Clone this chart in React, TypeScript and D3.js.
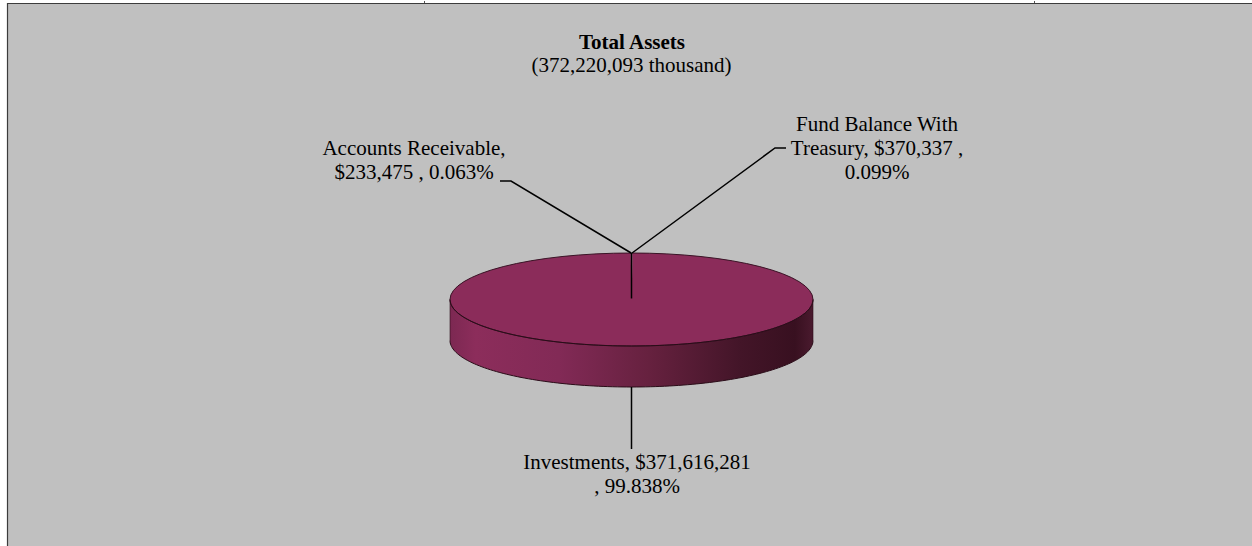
import React from "react";
import * as d3 from "d3";

// ---- data ----
const categories = ["Fund Balance With Treasury", "Investments", "Accounts Receivable"];
const values = [370337, 371616281, 233475];
const percentLabels = ["0.099%", "99.838%", "0.063%"];
const labelLines = [
  ["Fund Balance With", "Treasury, $370,337 ,", "0.099%"],
  ["Investments, $371,616,281", ", 99.838%"],
  ["Accounts Receivable,", "$233,475 , 0.063%"],
];
const titleLines = ["Total Assets", "(372,220,093 thousand)"];

// ---- layout ----
const W = 1252;
const H = 546;
const CX = 631.5;
const CY = 299.5;
const RX = 181.5;
const RY = 46.5;
const DEPTH = 41;
const FONT = "'Liberation Serif', 'Times New Roman', serif";
const FS = 21;
const LH = 24;

// label layout: text centre x, first baseline y, leader elbow points
const labelLayout = [
  { x: 877, y: 131, elbow: [775, 148], end: [786, 148] },
  { x: 637, y: 469, elbow: null as null | number[], end: [631.5, 449] },
  { x: 414, y: 155, elbow: [511, 181], end: [500, 181] },
];

export default function App() {
  const pie = d3.pie<number>().sort(null).value((d) => d);
  const arcs = pie(values);

  const pt = (a: number, dy = 0) => [CX + RX * Math.sin(a), CY - RY * Math.cos(a) + dy];

  const slicePath = (a0: number, a1: number) => {
    const n = Math.max(2, Math.ceil(((a1 - a0) / (2 * Math.PI)) * 200));
    const pts: number[][] = [[CX, CY]];
    for (let i = 0; i <= n; i++) pts.push(pt(a0 + ((a1 - a0) * i) / n));
    return d3.line()(pts as [number, number][]) + "Z";
  };

  // side wall (front half)
  const sidePts: [number, number][] = [];
  const N = 120;
  for (let i = 0; i <= N; i++) {
    const a = Math.PI / 2 + (Math.PI * i) / N; // right -> bottom -> left
    const p = pt(a);
    sidePts.push([p[0], p[1]]);
  }
  const bottomPts: [number, number][] = sidePts.map(([x, y]) => [x, y + DEPTH]).reverse();
  const sidePath = d3.line()([...sidePts, ...bottomPts]) + "Z";
  const frontEdge = d3.line()(sidePts);
  const bottomEdge = d3.line()(bottomPts);

  const color = "#8b2c5a";

  return (
    <svg
      width={W}
      height={H}
      style={{ position: "absolute", left: 0, top: 0, display: "block" }}
      fontFamily={FONT}
    >
      <defs>
        <linearGradient id="side" x1={CX - RX} x2={CX + RX} y1={0} y2={0} gradientUnits="userSpaceOnUse">
          <stop offset="0" stopColor="#7c2852" />
          <stop offset="0.07" stopColor="#8c2d5b" />
          <stop offset="0.3" stopColor="#822a56" />
          <stop offset="0.55" stopColor="#66213f" />
          <stop offset="0.8" stopColor="#431528" />
          <stop offset="0.95" stopColor="#381020" />
          <stop offset="1" stopColor="#4a1a2e" />
        </linearGradient>
      </defs>
      <rect x={0} y={0} width={W} height={H} fill="#ffffff" />
      <rect x={7} y={3} width={W - 7} height={H - 3} fill="#c0c0c0" />
      <line x1={7} x2={W} y1={3.5} y2={3.5} stroke="#3c3c3c" strokeWidth={1} />
      <line x1={7.5} x2={7.5} y1={3} y2={H} stroke="#3c3c3c" strokeWidth={1.2} />
      <line x1={424.5} x2={424.5} y1={1} y2={3} stroke="#555" strokeWidth={1} />
      <line x1={1034.5} x2={1034.5} y1={1} y2={3} stroke="#555" strokeWidth={1} />

      {/* title */}
      <text x={632} y={49} textAnchor="middle" fontSize={FS} fontWeight="bold" fill="#000">
        {titleLines[0]}
      </text>
      <text x={631.5} y={72} textAnchor="middle" fontSize={FS} fill="#000">
        {titleLines[1]}
      </text>

      {/* pie side */}
      <path d={sidePath} fill="url(#side)" />
      <path d={bottomEdge} fill="none" stroke="#2a0c18" strokeWidth={1} />
      <line x1={CX - RX} x2={CX - RX} y1={CY} y2={CY + DEPTH} stroke="#2a0c18" strokeWidth={0.6} />
      <line x1={CX + RX} x2={CX + RX} y1={CY} y2={CY + DEPTH} stroke="#2a0c18" strokeWidth={0.6} />

      {/* pie top */}
      {arcs.map((a, i) => (
        <path key={categories[i]} d={slicePath(a.startAngle, a.endAngle)} fill={color} stroke="none" />
      ))}
      <ellipse cx={CX} cy={CY} rx={RX} ry={RY} fill="none" stroke="#3a1426" strokeWidth={1} />
      <path d={frontEdge} fill="none" stroke="#2a0c18" strokeWidth={1} />

      {/* inner radial line */}
      <line x1={CX} x2={CX} y1={CY - 1} y2={CY - RY} stroke="#000" strokeWidth={1.5} />

      {/* leaders and labels */}
      {arcs.map((a, i) => {
        const mid = (a.startAngle + a.endAngle) / 2;
        const onBottom = Math.cos(mid) < 0;
        const s = pt(mid, onBottom ? DEPTH : 0);
        const L = labelLayout[i];
        const pts: [number, number][] = [[s[0], s[1]]];
        if (L.elbow) pts.push([L.elbow[0], L.elbow[1]]);
        pts.push([L.end[0], L.end[1]]);
        if (!L.elbow) pts[0][0] = L.end[0];
        return (
          <g key={"lbl" + categories[i]}>
            <path d={d3.line()(pts) || ""} fill="none" stroke="#000" strokeWidth={1.5} />
            <text textAnchor="middle" fontSize={FS} fill="#000">
              {labelLines[i].map((t, j) => (
                <tspan key={j} x={L.x} y={L.y + j * LH}>
                  {t}
                </tspan>
              ))}
            </text>
            <title>{`${categories[i]} ${percentLabels[i]}`}</title>
          </g>
        );
      })}
    </svg>
  );
}
